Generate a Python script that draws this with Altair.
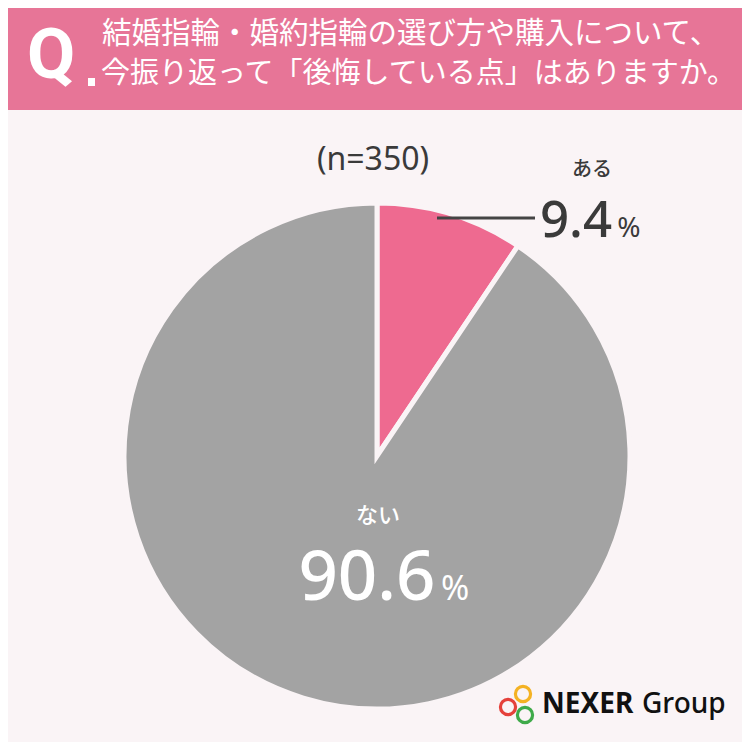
import altair as alt
import pandas as pd

# ---- data ----
categories = ["ある", "ない"]
values = [9.4, 90.6]
slice_colors = ["#EE6A90", "#A3A3A3"]
title_lines = ["結婚指輪・婚約指輪の選び方や購入について、", "今振り返って「後悔している点」はありますか。"]
sample_label = "(n=350)"
brand_text = ["NEXER", "Group"]
logo_colors = ["#F4B223", "#E5413B", "#3FAA4A"]

BG = "#FAF4F6"
HEADER = "#E77597"
DARK = "#3A3A3A"
JP = "Noto Sans CJK JP"
W = H = 734
OFF = 8  # page margin offset

pie_df = pd.DataFrame({"cat": categories, "val": values, "ord": [0, 1]})

pie = alt.Chart(pie_df).mark_arc(radius=253, stroke=BG, strokeWidth=5).encode(
    theta=alt.Theta("val:Q", stack=True),
    order=alt.Order("ord:Q"),
    color=alt.Color("cat:N", scale=alt.Scale(domain=categories, range=slice_colors), legend=None),
    x=alt.value(377 - OFF),
    y=alt.value(456 - OFF),
)

def rect(x1, x2, y1, y2, color):
    return alt.Chart(pd.DataFrame({"a": [0]})).mark_rect(color=color).encode(
        x=alt.value(x1 - OFF), x2=alt.value(x2 - OFF), y=alt.value(y1 - OFF), y2=alt.value(y2 - OFF)
    )

def txt(s, x, y, size, color, font=JP, weight=500, align="left", baseline="alphabetic"):
    return alt.Chart(pd.DataFrame({"t": [s]})).mark_text(
        font=font, fontSize=size, fontWeight=weight, color=color, align=align, baseline=baseline
    ).encode(text="t:N", x=alt.value(x - OFF), y=alt.value(y - OFF))

layers = [rect(0, W + OFF, 0, 110, HEADER), pie]
layers.append(txt("Q", 27, 78, 70, "white", font="Roboto", weight="bold"))
layers.append(rect(88, 95, 78, 86, "white"))
layers.append(txt(title_lines[0], 102, 34, 29.5, "white", weight=400, baseline="middle"))
layers.append(txt(title_lines[1], 101, 74, 29, "white", weight=400, baseline="middle"))

layers.append(txt(sample_label, 373, 160, 32, DARK, font="Noto Sans", weight=400, align="center", baseline="middle"))

# labels
layers.append(txt(categories[0], 592, 170, 20, DARK, align="center", baseline="middle"))
layers.append(txt(f"{values[0]}", 576, 237, 51, DARK, font="Noto Sans", weight=500, align="center"))
layers.append(txt("%", 629, 237, 28, DARK, font="Noto Sans", weight=400, align="center"))
layers.append(
    alt.Chart(pd.DataFrame({"a": [0]})).mark_rule(color="#444444", strokeWidth=3).encode(
        x=alt.value(437 - OFF), x2=alt.value(535 - OFF), y=alt.value(218 - OFF)
    )
)
layers.append(txt(categories[1], 378, 516, 22, "white", align="center", baseline="middle"))
layers.append(txt(f"{values[1]}", 367, 600, 69, "white", font="Noto Sans", weight=500, align="center"))
layers.append(txt("%", 455, 600, 34, "white", font="Noto Sans", weight=400, align="center"))

# logo
logo_x = [523, 508, 525]
logo_y = [694, 707, 715]
for i, c in enumerate(logo_colors):
    layers.append(
        alt.Chart(pd.DataFrame({"a": [0]})).mark_point(
            shape="circle", filled=False, stroke=c, strokeWidth=3.2, size=230, opacity=1
        ).encode(x=alt.value(logo_x[i] - OFF), y=alt.value(logo_y[i] - OFF))
    )
layers.append(txt(brand_text[0], 542, 713, 28, "#111111", font="Noto Sans", weight="bold"))
layers.append(txt(brand_text[1], 642, 713, 28, "#111111", font="Noto Sans", weight=500))

chart = alt.layer(*layers).properties(
    width=W, height=H, background=BG, padding=0, autosize=alt.AutoSizeParams(type="none")
).configure_view(strokeWidth=0)

chart.save("out.html", embed_options={"renderer": "svg", "actions": False})
